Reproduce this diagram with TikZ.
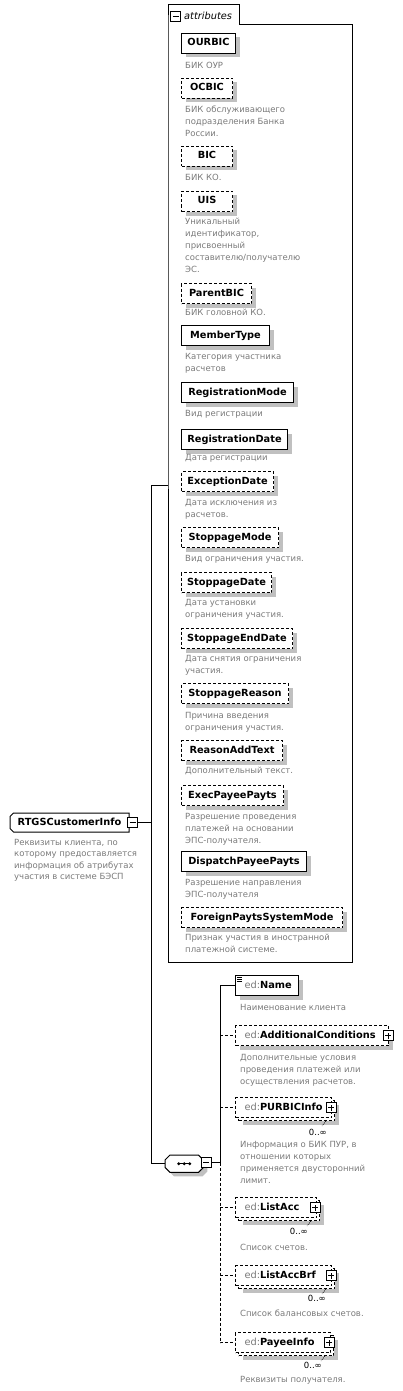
\documentclass[tikz,border=0pt]{standalone}
\usepackage{fontspec}
\setmainfont{DejaVu Sans}
\usetikzlibrary{backgrounds}
\definecolor{descgray}{RGB}{122,122,122}
\definecolor{shadowgray}{RGB}{192,192,192}
\newcommand\elfont{\fontsize{9.8}{11}\selectfont\bfseries}
\newcommand\dscfont{\fontsize{8.5}{12}\selectfont}
\newcommand\rootdscfont{\fontsize{8.5}{11.5}\selectfont}
\newcommand\edp{\textcolor{descgray}{\mdseries ed:}}
\tikzset{
  shadowed/.style={preaction={fill=shadowgray,draw=none,transform canvas={shift={(4pt,-4pt)}}}},
  elbox/.style={draw, fill=white, line width=1pt, anchor=north west, minimum height=20pt,
    inner sep=0pt, font=\elfont, text height=7.2pt, text depth=2.2pt},
  optl/.style={dash pattern=on 3pt off 2pt},
  edtext/.style={align=left, inner xsep=9pt},
  desc/.style={anchor=north west, inner sep=0pt, align=left, font=\dscfont, text=descgray},
  pmbox/.style={draw, fill=white, line width=1pt, minimum size=10pt, inner sep=0pt},
  plusbox/.style={pmbox, path picture={\draw[line width=1pt]
      ([xshift=2pt]path picture bounding box.west) -- ([xshift=-2pt]path picture bounding box.east)
      ([yshift=2pt]path picture bounding box.south) -- ([yshift=-2pt]path picture bounding box.north);}},
  minusbox/.style={pmbox, path picture={\draw[line width=1pt]
      ([xshift=2pt]path picture bounding box.west) -- ([xshift=-2pt]path picture bounding box.east);}},
  conn/.style={line width=1pt},
  occ/.style={font=\dscfont, inner sep=0pt, anchor=east},
  tick/.style={line width=0.6pt, dash pattern=on 1pt off 1pt},
}
\begin{document}
\begin{tikzpicture}[x=1pt,y=-1pt]
\useasboundingbox (0,0) rectangle (402,1391);

% ---------- attributes group ----------
\node[anchor=north west, minimum width=184pt, minimum height=937pt, inner sep=0pt] (attrs) at (168,25) {};
\draw[conn] (168,25) -- (168,5) -- (239,5) -- (239,25) -- (352,25) -- (352,962) -- (168,962) -- cycle;
\node[minusbox] (attrminus) at (175.5,17) {};
\node[anchor=west, inner sep=0pt, font=\fontsize{9.8}{11}\selectfont\itshape] (attrlabel) at (184,16) {attributes};

\node[elbox, shadowed, minimum width=54pt] (ourbic) at (181,33) {OURBIC};
\node[desc] (d-ourbic) at (185,60) {\strut БИК ОУР};
\node[elbox, shadowed, optl, minimum width=51pt] (ocbic) at (181,78) {OCBIC};
\node[desc] (d-ocbic) at (185,104) {\strut БИК обслуживающего\\подразделения Банка\\России.};
\node[elbox, shadowed, optl, minimum width=51pt] (bic) at (181,146) {BIC};
\node[desc] (d-bic) at (185,172) {\strut БИК КО.};
\node[elbox, shadowed, optl, minimum width=51pt] (uis) at (181,191) {UIS};
\node[desc] (d-uis) at (185,216) {\strut Уникальный\\идентификатор,\\присвоенный\\составителю/получателю\\ЭС.};
\node[elbox, shadowed, optl, minimum width=70pt] (parentbic) at (181,283) {ParentBIC};
\node[desc] (d-parentbic) at (185,307) {\strut БИК головной КО.};
\node[elbox, shadowed, minimum width=88pt] (membertype) at (181,325) {MemberType};
\node[desc] (d-membertype) at (185,351) {\strut Категория участника\\расчетов};
\node[elbox, shadowed, minimum width=112pt] (regmode) at (181,382) {RegistrationMode};
\node[desc] (d-regmode) at (185,408) {\strut Вид регистрации};
\node[elbox, shadowed, minimum width=106pt] (regdate) at (181,429) {RegistrationDate};
\node[desc] (d-regdate) at (185,452) {\strut Дата регистрации};
\node[elbox, shadowed, optl, minimum width=92pt] (excdate) at (181,471) {ExceptionDate};
\node[desc] (d-excdate) at (185,497) {\strut Дата исключения из\\расчетов.};
\node[elbox, shadowed, optl, minimum width=97pt] (stopmode) at (181,527) {StoppageMode};
\node[desc] (d-stopmode) at (185,553) {\strut Вид ограничения участия.};
\node[elbox, shadowed, optl, minimum width=90pt] (stopdate) at (181,572) {StoppageDate};
\node[desc] (d-stopdate) at (185,597) {\strut Дата установки\\ограничения участия.};
\node[elbox, shadowed, optl, minimum width=111pt] (stopend) at (181,628) {StoppageEndDate};
\node[desc] (d-stopend) at (185,653) {\strut Дата снятия ограничения\\участия.};
\node[elbox, shadowed, optl, minimum width=107pt] (stopreason) at (181,683) {StoppageReason};
\node[desc] (d-stopreason) at (185,710) {\strut Причина введения\\ограничения участия.};
\node[elbox, shadowed, optl, minimum width=101pt] (reasonadd) at (181,740) {ReasonAddText};
\node[desc] (d-reasonadd) at (185,765) {\strut Дополнительный текст.};
\node[elbox, shadowed, optl, minimum width=102pt] (execpayee) at (181,785) {ExecPayeePayts};
\node[desc] (d-execpayee) at (185,811) {\strut Разрешение проведения\\платежей на основании\\ЭПС-получателя.};
\node[elbox, shadowed, minimum width=125pt] (dispatch) at (181,851) {DispatchPayeePayts};
\node[desc] (d-dispatch) at (185,877) {\strut Разрешение направления\\ЭПС-получателя};
\node[elbox, shadowed, optl, minimum width=161pt] (foreign) at (181,907) {ForeignPaytsSystemMode};
\node[desc] (d-foreign) at (185,932) {\strut Признак участия в иностранной\\платежной системе.};

% ---------- root element ----------
\node[elbox, draw=none, fill=none, minimum width=118pt, minimum height=18pt] (root) at (10,813) {RTGSCustomerInfo};
\draw[conn] ([xshift=3.5pt]root.north west) -- (root.north east) -- (root.south east)
  -- ([xshift=3.5pt]root.south west) -- ([yshift=3.5pt]root.south west)
  -- ([yshift=-3.5pt]root.north west) -- cycle;
\node[minusbox] (rootminus) at (132.5,822.5) {};
\node[desc, font=\rootdscfont] (d-root) at (14,837) {\strut Реквизиты клиента, по\\которому предоставляется\\информация об атрибутах\\участия в системе БЭСП};

% ---------- sequence ----------
\node[anchor=north west, minimum width=38pt, minimum height=17pt, inner sep=0pt] (seq) at (165,1155) {};
\begin{pgfonlayer}{background}
\fill[shadowgray, transform canvas={shift={(4pt,-4pt)}}]
  ([xshift=5pt]seq.north west) -- ([xshift=-5pt]seq.north east) -- ([yshift=-5pt]seq.north east)
  -- ([yshift=5pt]seq.south east) -- ([xshift=-5pt]seq.south east) -- ([xshift=5pt]seq.south west)
  -- ([yshift=5pt]seq.south west) -- ([yshift=-5pt]seq.north west) -- cycle;
\end{pgfonlayer}
\draw[conn, fill=white] ([xshift=5pt]seq.north west) -- ([xshift=-5pt]seq.north east) -- ([yshift=-5pt]seq.north east)
  -- ([yshift=5pt]seq.south east) -- ([xshift=-5pt]seq.south east) -- ([xshift=5pt]seq.south west)
  -- ([yshift=5pt]seq.south west) -- ([yshift=-5pt]seq.north west) -- cycle;
\draw[line width=0.8pt] ([xshift=-6.5pt]seq.center) -- ([xshift=6.5pt]seq.center);
\foreach \dx in {-5.5,0,5.5} \fill ([xshift=\dx pt]seq.center) circle (1.6pt);
\node[minusbox] (seqminus) at (206,1162.5) {};

% ---------- child elements ----------
\node[elbox, shadowed, edtext, text width=45pt] (name) at (235,975) {\edp Name};
\draw[line width=0.7pt] (237,977.5) -- (242,977.5) (237,979.5) -- (242,979.5) (237,981.5) -- (242,981.5);
\node[desc] (d-name) at (240,1002) {\strut Наименование клиента};

\node[elbox, shadowed, optl, edtext, text width=135pt] (addc) at (235,1025) {\edp AdditionalConditions};
\node[plusbox] (addc-plus) at ([xshift=-1pt]addc.east) {};
\node[desc] (d-addc) at (240,1052) {\strut Дополнительные условия\\проведения платежей или\\осуществления расчетов.};

\node[elbox, shadowed, optl, minimum width=96pt] (purbic-b) at (238,1100) {};
\node[elbox, optl, edtext, text width=78pt] (purbic) at (235,1097) {\edp PURBICInfo};
\node[plusbox] (purbic-plus) at ([xshift=-1pt]purbic.east) {};
\draw[tick] ([xshift=-6pt,yshift=-3pt]purbic.south east) -- ([xshift=-10pt,yshift=-8pt]purbic.south east);
\node[occ] (purbic-occ) at (327,1132) {0..∞};
\node[desc] (d-purbic) at (240,1139) {\strut Информация о БИК ПУР, в\\отношении которых\\применяется двусторонний\\лимит.};

\node[elbox, shadowed, optl, minimum width=81pt] (listacc-b) at (238,1200) {};
\node[elbox, optl, edtext, text width=63pt] (listacc) at (235,1197) {\edp ListAcc};
\node[plusbox] (listacc-plus) at ([xshift=-2pt]listacc.east) {};
\draw[tick] ([xshift=-6pt,yshift=-3pt]listacc.south east) -- ([xshift=-10pt,yshift=-8pt]listacc.south east);
\node[occ] (listacc-occ) at (308,1231) {0..∞};
\node[desc] (d-listacc) at (240,1242) {\strut Список счетов.};

\node[elbox, shadowed, optl, minimum width=96pt] (listaccbrf-b) at (238,1268) {};
\node[elbox, optl, edtext, text width=78pt] (listaccbrf) at (235,1265) {\edp ListAccBrf};
\node[plusbox] (listaccbrf-plus) at ([xshift=-1pt]listaccbrf.east) {};
\draw[tick] ([xshift=-6pt,yshift=-3pt]listaccbrf.south east) -- ([xshift=-10pt,yshift=-8pt]listaccbrf.south east);
\node[occ] (listaccbrf-occ) at (326,1298) {0..∞};
\node[desc] (d-listaccbrf) at (240,1308) {\strut Список балансовых счетов.};

\node[elbox, shadowed, optl, minimum width=95pt] (payee-b) at (238,1335) {};
\node[elbox, optl, edtext, text width=77pt] (payee) at (235,1332) {\edp PayeeInfo};
\node[plusbox] (payee-plus) at ([xshift=-2pt]payee.east) {};
\draw[tick] ([xshift=-6pt,yshift=-3pt]payee.south east) -- ([xshift=-10pt,yshift=-8pt]payee.south east);
\node[occ] (payee-occ) at (322,1365) {0..∞};
\node[desc] (d-payee) at (240,1374) {\strut Реквизиты получателя.};

% ---------- connectors ----------
\coordinate (vx) at (151,485);
\coordinate (cx) at (220,985);
\draw[conn] (vx) -- (vx -| attrs.west);
\draw[conn] (rootminus.east) -- (rootminus.east -| vx);
\draw[conn] (vx) -- (vx |- seq.west) -- (seq.west);
\draw[conn] (seqminus.east) -- (seqminus.east -| cx);
\draw[conn] (name.west) -- (name.west -| cx) -- (cx |- seqminus.east);
\draw[conn, optl] (cx |- seqminus.east) -- (cx |- payee.west) -- (payee.west);
\draw[conn, optl] (addc.west -| cx) -- (addc.west);
\draw[conn, optl] (purbic.west -| cx) -- (purbic.west);
\draw[conn, optl] (listacc.west -| cx) -- (listacc.west);
\draw[conn, optl] (listaccbrf.west -| cx) -- (listaccbrf.west);
\end{tikzpicture}
\end{document}
